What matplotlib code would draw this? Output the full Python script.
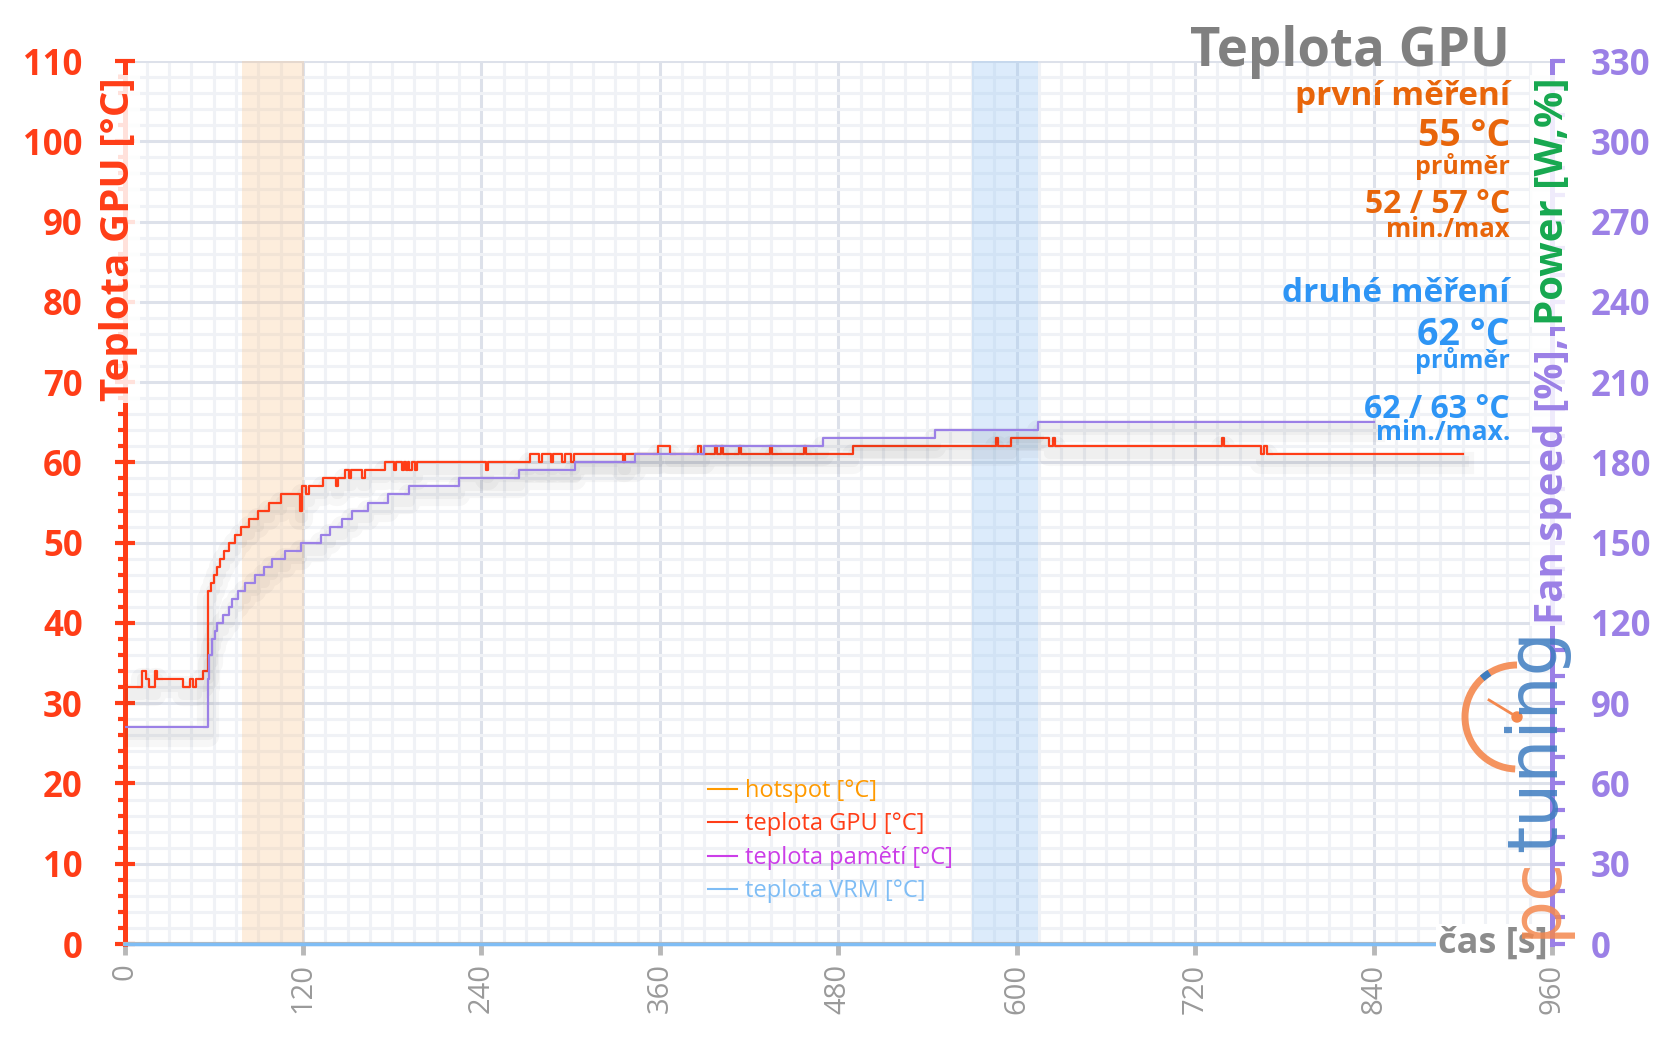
import matplotlib
matplotlib.use('Agg')
import matplotlib.pyplot as plt
import matplotlib.patheffects as pe
from matplotlib.lines import Line2D
from matplotlib.patches import Arc, Circle
from matplotlib.ticker import MultipleLocator

plt.rcParams['font.family'] = ['Open Sans', 'DejaVu Sans']

RED = '#ff3d17'
PURPLE = '#9b80e6'
GREEN = '#17a84f'
ORANGE = '#e8650a'
BLUE = '#2e95f5'
GRAY = '#808080'

# teplota GPU [°C] - breakpoints (step hold)
gpu_time = [0, 12, 14.5, 16.5, 20.5, 21.5, 39, 44, 46, 48, 53, 56, 58, 60, 62, 64, 67, 70,
            74, 78, 84, 90, 97, 105, 118, 119.5, 122, 124, 133.5, 142, 143.5, 148, 151,
            152.5, 160, 161.5, 175.5, 181, 182.5, 186.5, 188, 189, 190.5, 191.5, 193,
            195.5, 197, 243, 244.5, 273, 279, 280.5, 286.5, 288, 294.5, 296, 300.5, 302,
            335, 336.5, 359, 367, 386, 387.5, 397, 398.5, 401, 402.5, 413, 414.5, 434,
            435.5, 457, 458.5, 490, 586, 587.5, 596, 622, 624.5, 626, 738, 739.5, 764,
            766, 768, 900]
gpu_vals = [32, 34, 33, 32, 34, 33, 32, 33, 32, 33, 34, 44, 45, 46, 47, 48, 49, 50,
            51, 52, 53, 54, 55, 56, 54, 57, 56, 57, 58, 57, 58, 59, 58,
            59, 58, 59, 60, 59, 60, 59, 60, 59, 60, 59, 60,
            59, 60, 59, 60, 61, 60, 61, 60, 61, 60, 61, 60, 61,
            60, 61, 62, 61, 62, 61, 62, 61, 62, 61, 62, 61, 62,
            61, 62, 61, 62, 63, 62, 63, 62, 63, 62, 63, 62, 61,
            62, 61, 61]

# fan speed [%] (right axis)
fan_time = [0, 56, 57, 59, 61, 62, 66, 70, 72.5, 76, 81, 88, 94, 99.5, 108, 119, 132,
            138, 146, 153, 164, 177, 191, 225, 265, 303, 343, 390, 470, 545, 614, 840]
fan_vals = [81, 99, 108, 114, 117, 120, 123, 126, 129, 132, 135, 138, 141, 144, 147, 150,
            153, 156, 159, 162, 165, 168, 171, 174, 177, 180, 183, 186, 189, 192, 195, 195]

# teplota VRM [°C]
vrm_time = [0, 900]
vrm_vals = [0, 0]

first_span = (79, 121)
second_span = (570, 614)

legend_labels = ['hotspot [°C]', 'teplota GPU [°C]', 'teplota pamětí [°C]', 'teplota VRM [°C]']
legend_colors = ['#ff9a00', RED, '#cc3ee8', '#7fbdf5']

fig = plt.figure(figsize=(16.56, 10.43), dpi=100)
ax = fig.add_axes([0.0752, 0.0949, 0.862, 0.8466])
ax.set_xlim(0, 960)
ax.set_ylim(0, 110)

ax.set_axisbelow(True)
ax.xaxis.set_major_locator(MultipleLocator(120))
ax.xaxis.set_minor_locator(MultipleLocator(15))
ax.yaxis.set_major_locator(MultipleLocator(10))
ax.yaxis.set_minor_locator(MultipleLocator(2))
ax.grid(which='major', color='#dde1ea', lw=2.2)
ax.grid(which='minor', color='#f0f2f6', lw=2.2)

ax.axvspan(*first_span, color='#f9c48e', alpha=0.3, lw=0)
ax.axvspan(*second_span, color='#9cc8f5', alpha=0.35, lw=0)

shadow = [pe.SimpleLineShadow(offset=(0, -6), shadow_color='k', alpha=0.03, linewidth=16),
          pe.SimpleLineShadow(offset=(0, -5), shadow_color='k', alpha=0.03, linewidth=8),
          pe.Normal()]

ax.plot(vrm_time, vrm_vals, color='#7fbdf5', lw=2.5, zorder=3, clip_on=False)
ax.plot(gpu_time, gpu_vals, color=RED, lw=1.6, drawstyle='steps-post', path_effects=shadow, zorder=3)

for s in ['top', 'right']:
    ax.spines[s].set_visible(False)
ax.spines['left'].set_color(RED)
ax.spines['left'].set_linewidth(3.6)
ax.spines['bottom'].set_color('#b8b8b8')
ax.spines['bottom'].set_linewidth(3)

ax.set_yticks(range(0, 111, 10), [str(v) for v in range(0, 111, 10)], fontweight='bold')
ax.tick_params(axis='y', which='major', direction='inout', length=14, width=3, color=RED,
               labelcolor=RED, labelsize=25, pad=23)
ax.tick_params(axis='y', which='minor', direction='out', length=5, width=3, color=RED)
ax.set_xticks(range(0, 961, 120), [str(v) for v in range(0, 961, 120)], rotation=90)
ax.tick_params(axis='x', which='major', direction='out', length=8, width=3.5, color='#b8b8b8',
               labelcolor='#9a9a9a', labelsize=21, pad=6)
ax.tick_params(axis='x', which='minor', length=0)

ax2 = ax.twinx()
ax2.set_ylim(0, 330)
ax2.plot(fan_time, fan_vals, color=PURPLE, lw=1.6, drawstyle='steps-post', path_effects=shadow)
for s in ['top', 'left', 'bottom']:
    ax2.spines[s].set_visible(False)
ax2.spines['right'].set_color(PURPLE)
ax2.spines['right'].set_linewidth(3.6)
ax2.set_yticks(range(0, 331, 30), [str(v) for v in range(0, 331, 30)], fontweight='bold')
ax2.yaxis.set_minor_locator(MultipleLocator(10))
ax2.tick_params(axis='y', which='major', direction='out', length=9, width=3, color=PURPLE,
                labelcolor=PURPLE, labelsize=25, pad=19)
ax2.tick_params(axis='y', which='minor', direction='out', length=9, width=3, color=PURPLE)

handles = [Line2D([], [], color=c, lw=1.5) for c in legend_colors]
leg = ax2.legend(handles, legend_labels, loc='upper left', bbox_to_anchor=(0.394, 0.211),
                 frameon=False, fontsize=17, handlelength=1.2, handletextpad=0.35,
                 labelspacing=0.4, labelcolor=legend_colors)

# axis titles sitting on the spines
glow = dict(boxstyle='square,pad=0.05', fc='white', ec='none', alpha=0.85)
ax.text(-0.004, 108.0, 'Teplota GPU [°C]', transform=ax.get_yaxis_transform(), rotation=90,
        ha='center', va='top', color=RED, fontsize=29, fontweight='bold', bbox=glow, zorder=5)
t_pow = ax2.text(1, 108.0 / 110, 'Power [W,%]', transform=ax2.transAxes, rotation=90,
                 ha='center', va='top', color=GREEN, fontsize=29, fontweight='bold', bbox=glow)
fig.canvas.draw()
bb = t_pow.get_window_extent()
y_next = ax2.transAxes.inverted().transform((0, bb.y0 - 13))[1]
ax2.text(1, y_next, 'Fan speed [%],', transform=ax2.transAxes, rotation=90,
         ha='center', va='top', color=PURPLE, fontsize=29, fontweight='bold', bbox=glow)

ax2.text(0.997, 0.0, 'čas [s]', transform=ax2.transAxes, ha='right', va='center',
         color='#8c8c8c', fontsize=26, fontweight='bold',
         bbox=dict(boxstyle='square,pad=0.05', fc='white', ec='none'), zorder=6)

# headline and summary block
xr = 1510 / 1656
def put(y_px, s, color, size):
    fig.text(xr, 1 - y_px / 1043, s, ha='right', va='baseline', color=color,
             fontsize=size, fontweight='bold')

put(66, 'Teplota GPU', GRAY, 38)
put(105, 'první měření', ORANGE, 24)
put(146, '55 °C', ORANGE, 27)
put(174, 'průměr', ORANGE, 18)
put(213, '52 / 57 °C', ORANGE, 23)
put(237, 'min./max', ORANGE, 18.5)
put(302, 'druhé měření', BLUE, 24)
put(345, '62 °C', BLUE, 27)
put(368, 'průměr', BLUE, 18)
put(418, '62 / 63 °C', BLUE, 23)
put(440, 'min./max.', BLUE, 19)

# pctuning logo
fig.text(1570 / 1656, 1 - 938 / 1043, 'pc', rotation=90, ha='right', va='bottom',
         color='#f4884e', fontsize=50, family='DejaVu Sans', alpha=0.85, zorder=7)
fig.text(1570 / 1656, 1 - 852 / 1043, 'tuning', rotation=90, ha='right', va='bottom',
         color='#3d7cc0', fontsize=50, family='DejaVu Sans', alpha=0.85, zorder=7)
lax = fig.add_axes([1457 / 1656, 1 - 777 / 1043, 120 / 1656, 120 / 1043])
lax.set_xlim(-60, 60)
lax.set_ylim(-60, 60)
lax.set_aspect('equal')
lax.axis('off')
lax.add_patch(Arc((0, 0), 104, 104, theta1=90, theta2=268, color='#f4884e', lw=5, alpha=0.9))
lax.add_patch(Arc((0, 0), 104, 104, theta1=122, theta2=132, color='#3d7cc0', lw=5))
lax.plot([0, -28], [0, 17], color='#f4884e', lw=2)
lax.add_patch(Circle((0, 0), 5, color='#f4884e'))

fig.savefig('out.png', dpi=100)
